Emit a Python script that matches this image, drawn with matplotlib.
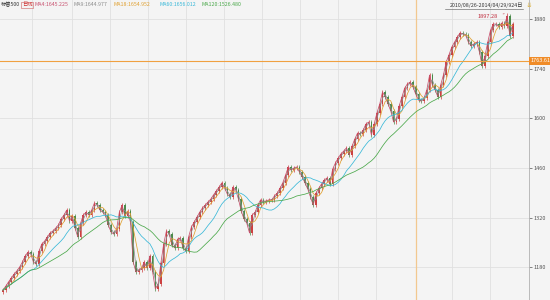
import matplotlib
matplotlib.use("Agg")
import matplotlib.pyplot as plt
import numpy as np
import pandas as pd

plt.rcParams['font.family'] = ['Noto Sans CJK SC', 'DejaVu Sans']

# weekly closes (S&P 500, 2010/08/26 - 2014/04/29)
closes = [
    1115, 1126, 1138, 1149, 1160, 1169, 1180, 1194, 1211, 1222,
    1217, 1194, 1188, 1225, 1245, 1253, 1265, 1276, 1282, 1290,
    1299, 1316, 1327, 1341, 1310, 1324, 1290, 1265, 1304, 1327,
    1335, 1327, 1341, 1361, 1355, 1341, 1335, 1327, 1299, 1279,
    1273, 1287, 1335, 1355, 1324, 1338, 1307, 1194, 1166, 1172,
    1177, 1194, 1177, 1211, 1166, 1118, 1132, 1191, 1245, 1282,
    1273, 1242, 1234, 1259, 1262, 1234, 1225, 1265, 1293, 1307,
    1321, 1335, 1347, 1355, 1364, 1372, 1384, 1395, 1406, 1418,
    1403, 1386, 1378, 1406, 1398, 1372, 1338, 1316, 1304, 1276,
    1327, 1335, 1355, 1370, 1364, 1367, 1370, 1370, 1381, 1389,
    1403, 1418, 1440, 1463, 1454, 1460, 1463, 1449, 1435, 1418,
    1401, 1378, 1355, 1389, 1403, 1415, 1426, 1432, 1415, 1457,
    1474, 1488, 1500, 1508, 1517, 1497, 1522, 1542, 1559, 1556,
    1567, 1584, 1590, 1553, 1584, 1616, 1641, 1675, 1661, 1641,
    1621, 1590, 1598, 1635, 1661, 1686, 1698, 1703, 1689, 1669,
    1652, 1649, 1658, 1681, 1723, 1695, 1681, 1661, 1695, 1723,
    1760, 1780, 1802, 1816, 1830, 1842, 1839, 1836, 1816, 1805,
    1811, 1816, 1788, 1748, 1777, 1816, 1850, 1867, 1867, 1859,
    1870, 1862, 1890, 1833, 1867,
]
ma_names = ["MA4", "MA9", "MA18", "MA60", "MA120"]
ma_windows = [1, 2, 4, 12, 24]          # day windows expressed in weeks
ma_colors = ["#c8506e", "#8c8c8c", "#e0a030", "#38b8d8", "#4aa84a"]
ma_labels = ["MA4:1645.225", "MA9:1644.977", "MA18:1654.952",
             "MA60:1656.012", "MA120:1526.480"]
y_ticks = [1180, 1320, 1460, 1600, 1740, 1880]
peak_value = 1897.28
cross_value = 1763.61
cross_index = 149
title = "标普500"
period = "日线"
date_range = "2010/08/26-2014/04/29/924日"

n = len(closes)
c = np.array(closes, dtype=float)
o = np.concatenate([[c[0] - 6], c[:-1]])
wick = 6
hi = np.maximum(o, c) + wick
lo = np.minimum(o, c) - wick
hi[182] = peak_value
idx = np.arange(n)

W, H = 550, 300
fig = plt.figure(figsize=(5.5, 3.0), dpi=100)
fig.set_facecolor("#f4f4f4")
ax = fig.add_axes([0, 0, 529 / W, 1])
ax.set_facecolor("#f4f4f4")

def px_to_idx(px):
    return (px - 3) / 2.77

ax.set_xlim(px_to_idx(0), px_to_idx(529))
ax.set_ylim(1935.1 - 2.828 * 300, 1935.1)

# grid
for gx in [32, 72, 110, 148, 186, 224, 262, 300, 338, 376, 452, 490]:
    ax.axvline(px_to_idx(gx), color="#e0e0e0", lw=0.6, zorder=0)
for t in y_ticks:
    ax.axhline(t, color="#e0e0e0", lw=0.6, zorder=0)

# candles
up = c >= o
col = np.where(up, "#cc4040", "#4a8a4a")
ax.vlines(idx, lo, hi, colors=col, lw=0.5, zorder=2)
ax.bar(idx, np.maximum(np.abs(c - o), 1.5), bottom=np.minimum(o, c), width=0.6,
       color=col, lw=0, zorder=3)

# moving averages
s = pd.Series(c)
for w, colr in zip(ma_windows, ma_colors):
    ax.plot(idx, s.rolling(w, min_periods=1).mean(), color=colr, lw=0.55, zorder=4)

# cross hair
ax.axhline(cross_value, color="#f0a040", lw=0.8, zorder=5)
ax.axvline(cross_index, color="#f2c890", lw=0.9, zorder=1)

# peak annotation
ax.annotate(f"{peak_value:.2f}", xy=(182, peak_value), xytext=(-7, -2),
            textcoords="offset points", ha="right", va="center",
            fontsize=4, color="#c03040",
            arrowprops=dict(arrowstyle="-", color="#c03040", lw=0.4))

# right axis
ax.yaxis.tick_right()
ax.set_yticks(y_ticks)
ax.set_yticklabels([str(t) for t in y_ticks])
ax.tick_params(axis="y", labelsize=4, colors="#555555", length=2, width=0.5, pad=1)
ax.tick_params(axis="x", bottom=False, labelbottom=False)
for sp in ["left", "top", "bottom"]:
    ax.spines[sp].set_visible(False)
ax.spines["right"].set_color("#b0b0b0")
ax.spines["right"].set_linewidth(0.6)

# price box
ax.text(1.003, cross_value, f"{cross_value:.2f}", transform=ax.get_yaxis_transform(),
        fontsize=4, color="white", va="center", ha="left",
        bbox=dict(boxstyle="square,pad=0.25", fc="#f08c28", ec="none"), zorder=6,
        clip_on=False)

# header legend
fig.text(1 / W, 1 - 5 / H, title, fontsize=3.8, color="#333333", va="center")
fig.text(22 / W, 1 - 5 / H, period, fontsize=3.8, color="#d03030", va="center",
         bbox=dict(boxstyle="square,pad=0.1", fc="none", ec="#d06060", lw=0.4))
for xp, lab, colr in zip([35, 73, 114, 160, 201], ma_labels, ma_colors):
    fig.text(xp / W, 1 - 5 / H, lab, fontsize=3.8, color=colr, va="center")

fig.text(523 / W, 1 - 5 / H, date_range, fontsize=3.8, color="#333333",
         va="center", ha="right")
fig.add_artist(plt.Line2D([445 / W, 523 / W], [1 - 9 / H, 1 - 9 / H],
                          color="#555555", lw=0.4))
fig.text(527 / W, 1 - 5 / H, "⇊", fontsize=4, color="#d8b040", va="center",
         family=["DejaVu Sans"])

fig.savefig("out.png", dpi=100, facecolor=fig.get_facecolor())
